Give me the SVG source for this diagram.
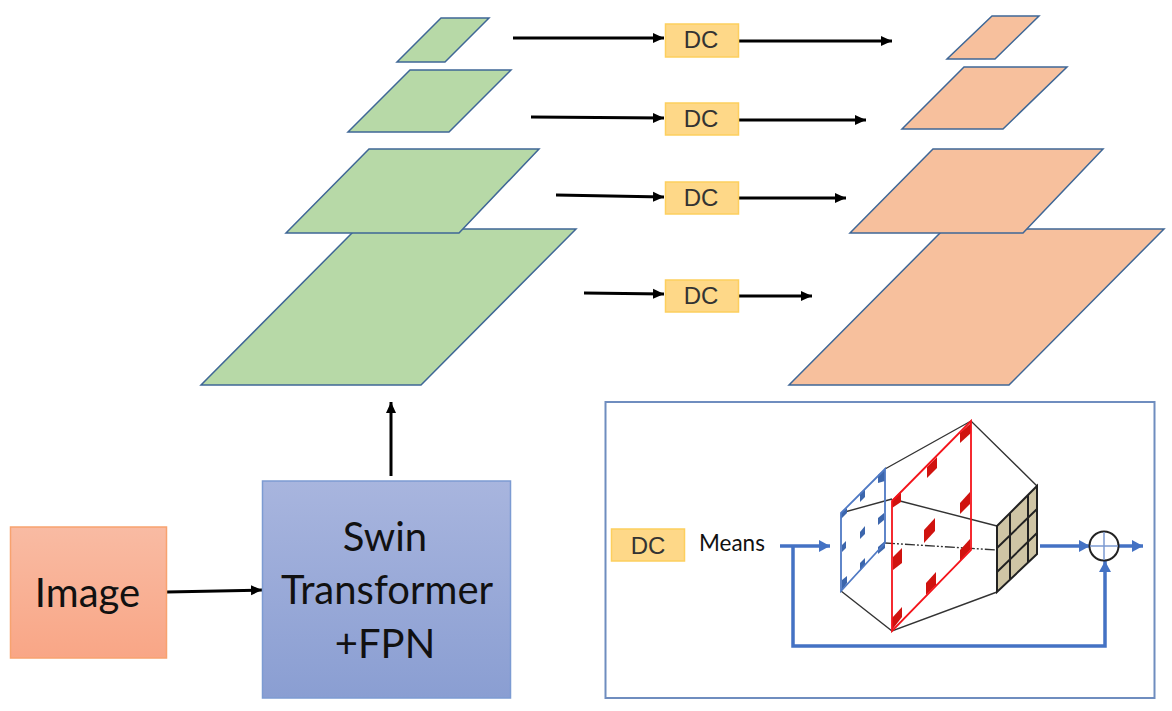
<svg xmlns="http://www.w3.org/2000/svg" width="1172" height="711" viewBox="0 0 1172 711">
<defs>
<linearGradient id="gi" x1="0" y1="0" x2="0" y2="1"><stop offset="0" stop-color="#f9bba3"/><stop offset="1" stop-color="#f9a686"/></linearGradient>
<linearGradient id="gs" x1="0" y1="0" x2="0" y2="1"><stop offset="0" stop-color="#a8b5de"/><stop offset="1" stop-color="#8a9ed2"/></linearGradient>
<marker id="ah" markerUnits="userSpaceOnUse" markerWidth="12" markerHeight="12" refX="11" refY="6" orient="auto"><path d="M0 1L11 6L0 11z" fill="#000"/></marker>
<marker id="ab" markerUnits="userSpaceOnUse" markerWidth="12" markerHeight="14" refX="11" refY="7" orient="auto"><path d="M0 1L11 7L0 13z" fill="#4472c4"/></marker>
</defs>
<style>
.g{fill:#b7d9a7;stroke:#3f6796;stroke-width:1.5}
.o{fill:#f7c09d;stroke:#3f6796;stroke-width:1.5}
.dc{fill:#fed888;stroke:#fdcf5e;stroke-width:1.5}
.dt{font:24px "Liberation Sans",Arial,sans-serif;fill:#333;text-anchor:middle}
.bt{font-family:Lato,"Open Sans",sans-serif;font-size:40px;fill:#111;text-anchor:middle}
.a{fill:none;stroke:#000;stroke-width:3;marker-end:url(#ah)}
.b{fill:none;stroke:#4472c4;stroke-width:3.5}
.k{fill:none;stroke:#333;stroke-width:1.4}
.bs{fill:#3c66ac}
.rs{fill:#d0130f}
</style>
<rect width="1172" height="711" fill="#fff"/>
<g id="connectors">
<path class="a" d="M167 592L262 590"/>
<path class="a" d="M391 476V402"/>
<path class="a" d="M513 38L664 38"/>
<path class="a" d="M739 41L892 41"/>
<path class="a" d="M531 117L664 118"/>
<path class="a" d="M739 120L866 120"/>
<path class="a" d="M556 195L664 197"/>
<path class="a" d="M739 198L846 198"/>
<path class="a" d="M584 293L664 294"/>
<path class="a" d="M739 296L812 296"/>
</g>
<g id="image"><rect x="10.500" y="527" width="156" height="131" fill="url(#gi)" stroke="#f8a26f" stroke-width="1.500"/><text class="bt" x="87.500" y="607">Image</text></g>
<g id="swin"><rect x="262.500" y="481" width="248" height="217" fill="url(#gs)" stroke="#7c9bd2" stroke-width="1.500"/><text class="bt" x="385" y="551">Swin</text><text class="bt" x="387" y="604">Transformer</text><text class="bt" x="385" y="658">+FPN</text></g>
<g id="green4"><polygon class="g" points="201,385 421,385 576,229 356,229"/></g>
<g id="green3"><polygon class="g" points="286,233 459,233 539,149 369,149"/></g>
<g id="green2"><polygon class="g" points="348,132 449,132 511,70 410,70"/></g>
<g id="green1"><polygon class="g" points="397,62 445,62 489,18 441,18"/></g>
<g id="orange4"><polygon class="o" points="789,385 1009,385 1164,229 944,229"/></g>
<g id="orange3"><polygon class="o" points="850,233 1023,233 1103,149 933,149"/></g>
<g id="orange2"><polygon class="o" points="902,129 1003,129 1067,67 964,67"/></g>
<g id="orange1"><polygon class="o" points="947,59 995,59 1039,16 992,16"/></g>
<g id="dc1"><rect class="dc" x="665.500" y="24" width="73" height="33"/><text class="dt" x="701" y="48">DC</text></g>
<g id="dc2"><rect class="dc" x="665.500" y="103" width="73" height="32"/><text class="dt" x="701" y="127">DC</text></g>
<g id="dc3"><rect class="dc" x="665.500" y="182" width="73" height="32"/><text class="dt" x="701" y="206">DC</text></g>
<g id="dc4"><rect class="dc" x="665.500" y="280" width="73" height="32"/><text class="dt" x="701" y="304">DC</text></g>
<g id="inset">
<rect x="605.500" y="402" width="549" height="296" fill="#fff" stroke="#6f8dbf" stroke-width="2"/>
<rect class="dc" x="611.500" y="529" width="73" height="32"/><text class="dt" x="648" y="554">DC</text>
<text x="699" y="551" font-family="Lato,'Open Sans',sans-serif" font-size="22.500" fill="#111">Means</text>
<path class="k" d="M841 513L892 499M885 469L971 421L1037 486M900 501L997 526M841 591L892 631L997 592"/>
<path d="M885 543L997 550" fill="none" stroke="#333" stroke-width="1.400" stroke-dasharray="10 2 2 2 2 2"/>
<g class="bs">
<polygon points="841,513 847,508 847,513 841,519"/><polygon points="878,475 885,469 885,481 878,483"/>
<polygon points="860,493 865,489 865,497 860,502"/><polygon points="878,518 884,513 884,520 878,525"/>
<polygon points="860,532 865,526 865,534 860,539"/><polygon points="842,545 846,541 846,548 842,552"/>
<polygon points="878,547 885,541 885,548 878,554"/><polygon points="860,563 865,558 865,565 860,571"/>
<polygon points="842,580 847,576 847,583 842,590"/>
</g>
<g class="rs">
<polygon points="892,500 901,491 901,502 892,508"/><polygon points="960,433 971,423 971,433 960,443"/>
<polygon points="927,467 937,457 937,468 927,478"/><polygon points="960,503 970,492 970,504 960,514"/>
<polygon points="924,530 935,518 935,531 924,543"/><polygon points="893,557 902,548 902,563 893,570"/>
<polygon points="960,550 970,539 970,550 960,561"/><polygon points="926,583 936,572 936,585 926,595"/>
<polygon points="892,618 902,607 902,617 892,630"/>
</g>
<polygon points="841,513 885,469 885,543 841,591" fill="none" stroke="#4f79c4" stroke-width="1.800"/>
<polygon points="892,501 971,421 971,550 892,631" fill="none" stroke="#f4141b" stroke-width="1.800"/>
<polygon points="997,526 1037,486 1037,554 997,592" fill="#cfc5a5" stroke="#222" stroke-width="2"/>
<path d="M1010 513V579M1028 495V563M997 548L1037 509M997 572L1037 533" fill="none" stroke="#222" stroke-width="2"/>
<path class="b" d="M780 546H830" marker-end="url(#ab)"/>
<path class="b" d="M793 546V646H1105V561" marker-end="url(#ab)"/>
<path class="b" d="M1040 546H1090" marker-end="url(#ab)"/>
<path class="b" d="M1118 546H1143" marker-end="url(#ab)"/>
<circle cx="1104" cy="546" r="14.500" fill="#fff" stroke="#222" stroke-width="2"/>
<path d="M1090 546H1118M1104 532V560" stroke="#7c9bd2" stroke-width="1.500"/>
</g>
</svg>
